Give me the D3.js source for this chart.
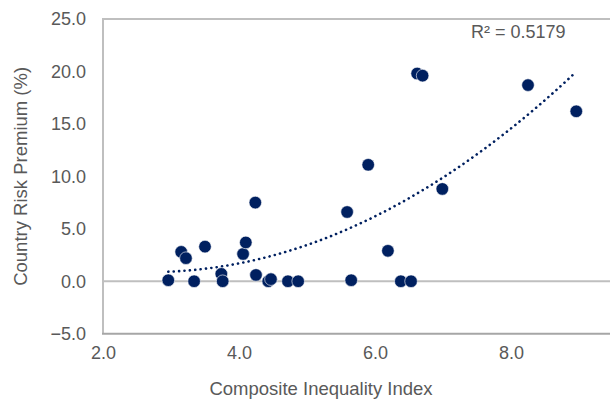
<!DOCTYPE html>
<html lang="en">
<head>
	<meta charset="utf-8">
	<title>Country Risk Premium vs Inequality</title>
	<script src="https://cdn.jsdelivr.net/npm/d3@7"></script>
	<style>
		body { margin: 0; background: #fff; }
		text { font-family: "Liberation Sans", Arial, sans-serif; fill: #595959; }
		.dot { fill: #002060; stroke: #fff; stroke-width: 0.6; }
		.trend { fill: none; stroke: #002060; stroke-width: 2.6; stroke-dasharray: 0.1 5.3; stroke-linecap: round; }
		.frame { stroke: #bfbfbf; stroke-width: 2; fill: none; }
	</style>
</head>
<body>
	<div id="chart"></div>

	<script>

		// composite inequality index
		var inequality = [2.96, 3.15, 3.22, 3.34, 3.50, 3.74, 3.76, 4.06, 4.10, 4.24,
		                  4.25, 4.43, 4.47, 4.72, 4.87, 5.59, 5.65, 5.90, 6.19, 6.38,
		                  6.53, 6.62, 6.70, 6.99, 8.25, 8.96];
		// country risk premium (%)
		var premium = [0.1, 2.8, 2.2, 0.0, 3.3, 0.7, 0.0, 2.6, 3.7, 7.5,
		               0.6, 0.0, 0.2, 0.0, 0.0, 6.6, 0.1, 11.1, 2.9, 0.0,
		               0.0, 19.8, 19.6, 8.8, 18.7, 16.2];

		var xTicks = [2, 4, 6, 8];
		var yTicks = [-5, 0, 5, 10, 15, 20, 25];
		var r2Label = "R² = 0.5179";

		var w = 610,
		    h = 402;
		var padL = 103, padT = 19, padB = 333.7, padR = 613;

		var svg = d3.select("#chart")
			.append("svg")
			.attr("width", w)
			.attr("height", h);

		var x = d3.scaleLinear().domain([2, 2 + (padR - padL) / 68]).range([padL, padR]);
		var y = d3.scaleLinear().domain([-5, 25]).range([padB, padT]);

		// frame: left, top, bottom
		svg.append("path")
			.attr("class", "frame")
			.attr("d", "M" + padR + "," + padT + "H" + padL + "V" + padB);
		svg.append("line")
			.attr("class", "frame")
			.attr("x1", padL - 1).attr("x2", padR)
			.attr("y1", y(-5)).attr("y2", y(-5))
			.style("stroke", "#a6a6a6");
		// horizontal axis crosses at zero
		svg.append("line")
			.attr("class", "frame")
			.attr("x1", padL).attr("x2", padR)
			.attr("y1", y(0)).attr("y2", y(0));

		// y axis labels
		var yAxis = svg.append("g")
			.attr("transform", "translate(" + (padL - 17) + ",0)")
			.call(d3.axisLeft(y).tickValues(yTicks).tickSize(0).tickPadding(0).tickFormat(d3.format(".1f")));
		yAxis.select(".domain").remove();
		yAxis.selectAll("text").style("font-size", "18px").style("fill", "#595959")
			.style("font-family", "'Liberation Sans', Arial, sans-serif");

		// x axis labels
		var xAxis = svg.append("g")
			.attr("transform", "translate(0," + (padB + 13) + ")")
			.call(d3.axisBottom(x).tickValues(xTicks).tickSize(0).tickPadding(0).tickFormat(d3.format(".1f")));
		xAxis.select(".domain").remove();
		xAxis.selectAll("text").style("font-size", "18px").style("fill", "#595959")
			.style("font-family", "'Liberation Sans', Arial, sans-serif");

		// axis titles
		svg.append("text")
			.attr("x", 321)
			.attr("y", 395)
			.attr("text-anchor", "middle")
			.style("font-size", "18.5px")
			.text("Composite Inequality Index");

		svg.append("text")
			.attr("transform", "translate(27," + ((padT + padB) / 2) + ") rotate(-90)")
			.attr("text-anchor", "middle")
			.style("font-size", "18.5px")
			.text("Country Risk Premium (%)");

		// polynomial (order 2) trend line, least squares
		var n = inequality.length;
		var s = [0, 0, 0, 0, 0], t = [0, 0, 0];
		for (var i = 0; i < n; i++) {
			var xi = inequality[i], yi = premium[i];
			for (var k = 0; k < 5; k++) s[k] += Math.pow(xi, k);
			for (var k = 0; k < 3; k++) t[k] += yi * Math.pow(xi, k);
		}
		var M = [[s[0], s[1], s[2], t[0]],
		         [s[1], s[2], s[3], t[1]],
		         [s[2], s[3], s[4], t[2]]];
		for (var c = 0; c < 3; c++) {
			for (var r = c + 1; r < 3; r++) {
				var f = M[r][c] / M[c][c];
				for (var k = c; k < 4; k++) M[r][k] -= f * M[c][k];
			}
		}
		var coef = [0, 0, 0];
		for (var r = 2; r >= 0; r--) {
			var v = M[r][3];
			for (var k = r + 1; k < 3; k++) v -= M[r][k] * coef[k];
			coef[r] = v / M[r][r];
		}
		var x0 = d3.min(inequality), x1 = d3.max(inequality);
		var trendPts = d3.range(0, 101).map(function(j) {
			var xv = x0 + (x1 - x0) * j / 100;
			return [xv, coef[0] + coef[1] * xv + coef[2] * xv * xv];
		});

		svg.append("path")
			.datum(trendPts)
			.attr("class", "trend")
			.attr("d", d3.line()
				.x(function(d) { return x(d[0]); })
				.y(function(d) { return y(d[1]); }));

		// points
		svg.selectAll(".dot")
			.data(d3.range(n))
			.enter()
			.append("circle")
			.attr("class", "dot")
			.attr("cx", function(i) { return x(inequality[i]); })
			.attr("cy", function(i) { return y(premium[i]); })
			.attr("r", 6.3);

		svg.append("text")
			.attr("x", 471)
			.attr("y", 38)
			.style("font-size", "18px")
			.text(r2Label);
	</script>
</body>
</html>
